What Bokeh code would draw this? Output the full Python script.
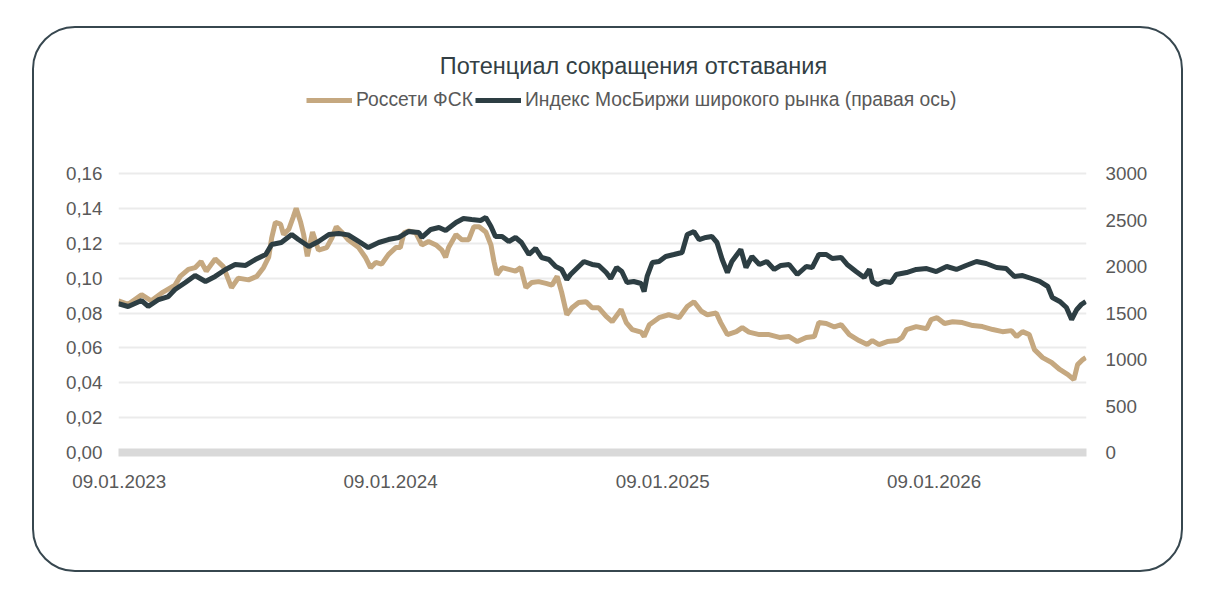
import pandas as pd
from bokeh.plotting import figure
from bokeh.models import (Range1d, LinearAxis, FixedTicker, CustomJSTickFormatter,
                          DatetimeTickFormatter, Legend, LegendItem, Label)
from bokeh.embed import file_html
from bokeh.resources import INLINE

title_text = "Потенциал сокращения отставания"
fsk_name = "Россети ФСК"
imoex_name = "Индекс МосБиржи широкого рынка (правая ось)"
start_date = "2023-01-09"
tick_dates = ["2023-01-09", "2024-01-09", "2025-01-09", "2026-01-09"]
left_ticks = [0, 0.02, 0.04, 0.06, 0.08, 0.10, 0.12, 0.14, 0.16]
right_ticks = [0, 500, 1000, 1500, 2000, 2500, 3000]
left_max = 0.16
right_max = 3000

# days since 09.01.2023
fsk_day = [-1, 12, 30, 43, 59, 75, 82, 93, 102, 110, 117, 129, 140, 151, 160, 174, 185, 194,
           201, 205, 210, 217, 221, 228, 234, 238, 244, 248, 253, 260, 268, 279, 286, 292, 299,
           308, 322, 331, 338, 345, 353, 362, 372, 378, 383, 389, 399, 407, 416, 426, 434, 439,
           443, 453, 461, 470, 477, 484, 493, 500, 504, 508, 515, 524, 533, 540, 547, 555, 564,
           574, 582, 589, 595, 602, 609, 618, 628, 636, 645, 655, 663, 675, 682, 690, 702, 706,
           713, 726, 739, 753, 764, 773, 783, 791, 803, 809, 818, 830, 838, 847, 861, 874, 888,
           901, 912, 924, 935, 941, 951, 962, 971, 982, 995, 1006, 1013, 1022, 1033, 1047, 1053,
           1059, 1072, 1086, 1092, 1100, 1110, 1121, 1134, 1148, 1161, 1175, 1188, 1200, 1207,
           1215, 1224, 1231, 1242, 1254, 1265, 1276, 1284, 1289, 1296, 1300]
fsk_val = [0.087, 0.085, 0.0905, 0.087, 0.092, 0.096, 0.101, 0.105, 0.106, 0.1095, 0.104, 0.111,
           0.1066, 0.0945, 0.100, 0.099, 0.101, 0.106, 0.112, 0.123, 0.132, 0.131, 0.125, 0.128,
           0.135, 0.140, 0.132, 0.125, 0.1125, 0.1265, 0.116, 0.1175, 0.123, 0.1295, 0.1265,
           0.122, 0.1175, 0.112, 0.106, 0.109, 0.108, 0.1135, 0.1175, 0.1175, 0.126, 0.127,
           0.126, 0.119, 0.121, 0.119, 0.116, 0.112, 0.1175, 0.125, 0.122, 0.122, 0.1295,
           0.1295, 0.1265, 0.119, 0.1095, 0.102, 0.106, 0.105, 0.104, 0.106, 0.0945, 0.0975,
           0.098, 0.097, 0.096, 0.101, 0.092, 0.079, 0.083, 0.086, 0.0865, 0.083, 0.083, 0.078,
           0.075, 0.082, 0.0745, 0.0705, 0.069, 0.0665, 0.0733, 0.0773, 0.079, 0.0773, 0.0837,
           0.0865, 0.081, 0.079, 0.080, 0.0745, 0.0676, 0.0693, 0.0716, 0.069, 0.0676, 0.0676,
           0.066, 0.0665, 0.0636, 0.066, 0.0665, 0.0745, 0.074, 0.072, 0.0733, 0.0676, 0.0642,
           0.0619, 0.0642, 0.0619, 0.0636, 0.0642, 0.066, 0.0705, 0.0722, 0.071, 0.0762, 0.0773,
           0.074, 0.075, 0.0745, 0.0728, 0.0722, 0.0705, 0.0693, 0.0699, 0.0665, 0.0693, 0.0676,
           0.059, 0.0544, 0.0516, 0.0476, 0.0447, 0.0418, 0.0504, 0.0533, 0.0544]

imoex_day = [-1, 12, 30, 39, 53, 66, 75, 89, 102, 116, 129, 143, 156, 170, 183, 197, 205, 218,
             232, 241, 255, 268, 282, 295, 308, 322, 335, 349, 362, 376, 389, 403, 407, 419, 430,
             439, 453, 463, 474, 486, 493, 500, 506, 515, 524, 533, 541, 551, 560, 568, 578, 587,
             595, 602, 607, 618, 625, 636, 645, 655, 661, 669, 676, 683, 692, 702, 706, 710, 717,
             726, 735, 746, 757, 764, 773, 780, 789, 797, 804, 811, 818, 824, 836, 843, 851, 861,
             871, 881, 890, 901, 912, 924, 932, 941, 951, 959, 971, 979, 991, 1002, 1009, 1013,
             1020, 1029, 1038, 1045, 1059, 1072, 1086, 1099, 1113, 1126, 1139, 1153, 1166, 1180,
             1193, 1204, 1215, 1227, 1238, 1249, 1255, 1265, 1274, 1281, 1288, 1294, 1300]
imoex_val = [1600, 1570, 1634, 1570, 1645, 1677, 1753, 1828, 1903, 1839, 1893, 1968, 2022, 2011,
             2075, 2129, 2237, 2258, 2344, 2290, 2215, 2269, 2344, 2355, 2340, 2269, 2204, 2258,
             2290, 2312, 2376, 2366, 2312, 2398, 2419, 2387, 2473, 2516, 2505, 2495, 2527, 2430,
             2323, 2323, 2269, 2312, 2258, 2129, 2194, 2097, 2075, 2000, 1968, 1860, 1914, 2000,
             2054, 2022, 2011, 1935, 1871, 1989, 1946, 1828, 1839, 1817, 1731, 1893, 2043, 2054,
             2108, 2129, 2151, 2344, 2376, 2290, 2312, 2323, 2258, 2075, 1935, 2054, 2183, 1989,
             2108, 2022, 2054, 1968, 2011, 2022, 1914, 2000, 1989, 2129, 2129, 2086, 2097, 2022,
             1946, 1882, 1968, 1839, 1806, 1839, 1828, 1914, 1935, 1968, 1978, 1946, 2000, 1968,
             2011, 2054, 2032, 1989, 1978, 1893, 1903, 1871, 1839, 1785, 1667, 1624, 1559, 1430,
             1538, 1591, 1624]

base = pd.Timestamp(start_date)
fsk_dates = base + pd.to_timedelta(fsk_day, unit="D")
imoex_dates = base + pd.to_timedelta(imoex_day, unit="D")

TAN = "#C5A880"
DARK = "#2D3E43"
GREY_TXT = "#595959"
FONT = "Liberation Sans"

W, H = 1151, 546
MB_TOP, MB_BOTTOM = 6, 122
GRID_PX = 279  # pixel height of the 0..max gridded part
frame_h = H - MB_TOP - MB_BOTTOM
scale = frame_h / GRID_PX

p = figure(width=W, height=H, x_axis_type="datetime",
           x_range=Range1d(pd.Timestamp("2023-01-08"), pd.Timestamp("2026-08-02")),
           y_range=Range1d(0, left_max * scale),
           output_backend="svg", toolbar_location=None,
           min_border_left=84, min_border_right=99, min_border_top=MB_TOP,
           min_border_bottom=MB_BOTTOM,
           margin=(26, 0, 0, 32))
p.styles = {"border": "2px solid #37474F", "border-radius": "43px"}
p.border_fill_color = None
p.background_fill_color = None
p.outline_line_color = None
p.extra_y_ranges = {"right": Range1d(0, right_max * scale)}

r_fsk = p.line(fsk_dates, fsk_val, line_color=TAN, line_width=5)
r_imoex = p.line(imoex_dates, imoex_val, line_color=DARK, line_width=5, y_range_name="right")

# axes
xa = p.xaxis[0]
xa.ticker = FixedTicker(ticks=[pd.Timestamp(d).value // 10**6 for d in tick_dates])
xa.formatter = DatetimeTickFormatter(days="%d.%m.%Y", months="%d.%m.%Y", years="%d.%m.%Y")
xa.axis_line_color = "#D9D9D9"
xa.axis_line_width = 8
xa.major_tick_line_color = None
xa.minor_tick_line_color = None
xa.major_tick_out = 0
xa.major_label_standoff = 22

ya = p.yaxis[0]
ya.ticker = FixedTicker(ticks=left_ticks)
ya.formatter = CustomJSTickFormatter(code="return tick.toFixed(2).replace('.', ',');")
ya.axis_line_color = None
ya.major_tick_line_color = None
ya.minor_tick_line_color = None
ya.major_tick_out = 0
ya.major_label_standoff = 16

ra = LinearAxis(y_range_name="right", ticker=FixedTicker(ticks=right_ticks))
ra.axis_line_color = None
ra.major_tick_line_color = None
ra.minor_tick_line_color = None
ra.major_tick_out = 0
ra.major_label_standoff = 19
p.add_layout(ra, "right")

for ax in (xa, ya, ra):
    ax.major_label_text_font = FONT
    ax.major_label_text_font_size = "18.8px"
    ax.major_label_text_color = GREY_TXT

p.xgrid.grid_line_color = None
p.ygrid.ticker = FixedTicker(ticks=left_ticks)
p.ygrid.grid_line_color = "#EBEBEB"
p.ygrid.grid_line_width = 2

legend = Legend(items=[LegendItem(label=fsk_name, renderers=[r_fsk]),
                       LegendItem(label=imoex_name, renderers=[r_imoex])],
                orientation="horizontal", location=(188, 341),
                glyph_width=46, glyph_height=20, label_height=20, label_standoff=4,
                spacing=2, padding=0, margin=0,
                border_line_color=None, background_fill_alpha=0,
                label_text_font=FONT, label_text_font_size="19.3px",
                label_text_color=GREY_TXT)
p.add_layout(legend, "center")

title = Label(x=515, y=387, x_units="screen", y_units="screen", text=title_text,
              text_align="center", text_baseline="middle",
              text_font=FONT, text_font_size="23.5px", text_color="#333F44")
p.add_layout(title)

open("out.html", "w").write(file_html(p, INLINE))
